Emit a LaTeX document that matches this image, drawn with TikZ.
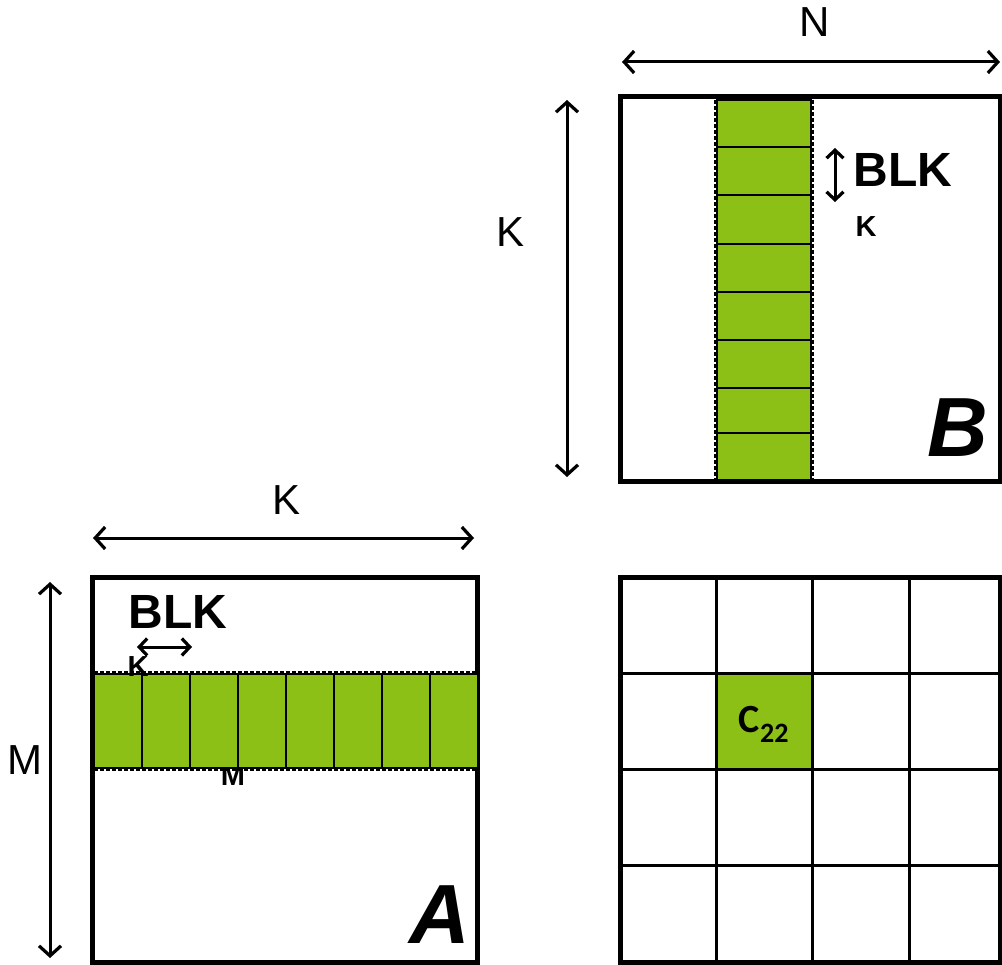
\documentclass[tikz,border=0pt]{standalone}
\usepackage{fontspec}
\setmainfont{Liberation Sans}
\newfontfamily\calib{Carlito}
\usetikzlibrary{arrows.meta}
\definecolor{nvgreen}{HTML}{8CC016}
\begin{document}
\begin{tikzpicture}[x=1pt,y=-1pt,
  mat/.style={draw=black,line width=5pt},
  gridline/.style={draw=black,line width=3pt},
  cellbox/.style={fill=nvgreen,draw=black,line width=2.6pt},
  stripedge/.style={draw=black,line width=1.8pt,dash pattern=on 4pt off 2pt},
  dimarrow/.style={line width=3pt,{Straight Barb[length=10pt,width=22pt,line width=3.2pt]}-{Straight Barb[length=10pt,width=22pt,line width=3.2pt]}},
  blkarrow/.style={line width=3pt,{Straight Barb[length=8pt,width=17pt,line width=3.2pt]}-{Straight Barb[length=8pt,width=17pt,line width=3.2pt]}},
  dimlabel/.style={font=\fontsize{42}{42}\selectfont,inner sep=0pt},
  blklabel/.style={font=\bfseries\fontsize{48}{48}\selectfont,inner sep=0pt},
  smalllabel/.style={font=\bfseries\fontsize{29}{29}\selectfont,inner sep=0pt},
  biglabel/.style={font=\bfseries\itshape\fontsize{84}{84}\selectfont,inner sep=0pt},
  clabel/.style={font=\calib\bfseries\fontsize{40}{40}\selectfont,inner sep=0pt}]
\useasboundingbox (0,0) rectangle (1002,965);

% ---------------- Matrix B ----------------
\draw[mat] (620,97) rectangle (1000,482);
\draw[stripedge] (715,100) -- (715,480);
\draw[stripedge] (813,100) -- (813,480);
\foreach \ya/\yb [count=\i] in {100/147,147/195,195/244,244/292,292/340,340/388,388/433,433/480}
  \draw[cellbox] (717,\ya) rectangle (811,\yb);
\node[biglabel] (Blab) at (958,428) {B};

% dimension arrows for B
\coordinate (nL) at (622,62);
\coordinate (nR) at (1000,62);
\draw[dimarrow] (nL) -- (nR);
\node[dimlabel] (Nlab) at (815,22) {N};
\coordinate (kT) at (567,100);
\coordinate (kB) at (567,477);
\draw[dimarrow] (kT) -- (kB);
\node[dimlabel] (KlabB) at (511,232) {K};
\coordinate (bT) at (835,148);
\coordinate (bB) at (835,202);
\draw[blkarrow] (bT) -- (bB);
\node[blklabel] (BLKb) at (903,170) {BLK};
\node[smalllabel] (kb) at (866,227) {K};

% ---------------- Matrix A ----------------
\draw[mat] (92,577) rectangle (477,962);
\node[smalllabel] (ma) at (233,776) {M};
\draw[stripedge] (94,672) -- (478,672);
\draw[stripedge] (94,770) -- (478,770);
\foreach \xa/\xb [count=\i] in {94/142,142/190,190/238,238/286,286/334,334/382,382/430,430/478}
  \draw[cellbox] (\xa,674) rectangle (\xb,768);
\node[biglabel] (Alab) at (440,915) {A};

\coordinate (aL) at (93,538);
\coordinate (aR) at (474,538);
\draw[dimarrow] (aL) -- (aR);
\node[dimlabel] (KlabA) at (287,500) {K};
\coordinate (mT) at (50,582);
\coordinate (mB) at (50,958);
\draw[dimarrow] (mT) -- (mB);
\node[dimlabel] (Mlab) at (25,760) {M};
\coordinate (baL) at (137,647);
\coordinate (baR) at (192,647);
\draw[blkarrow] (baL) -- (baR);
\node[blklabel] (BLKa) at (178,612) {BLK};
\node[smalllabel] (ka) at (138,667) {K};

% ---------------- Matrix C ----------------
\fill[nvgreen] (716,673) rectangle (812,769);
\foreach \x in {716,812,909}
  \draw[gridline] (\x,577) -- (\x,962);
\foreach \y in {673,769,865}
  \draw[gridline] (620,\y) -- (1000,\y);
\draw[mat] (620,577) rectangle (1000,962);
\node[clabel] (c22) at (764,724) {C\textsubscript{22}};
\end{tikzpicture}
\end{document}
